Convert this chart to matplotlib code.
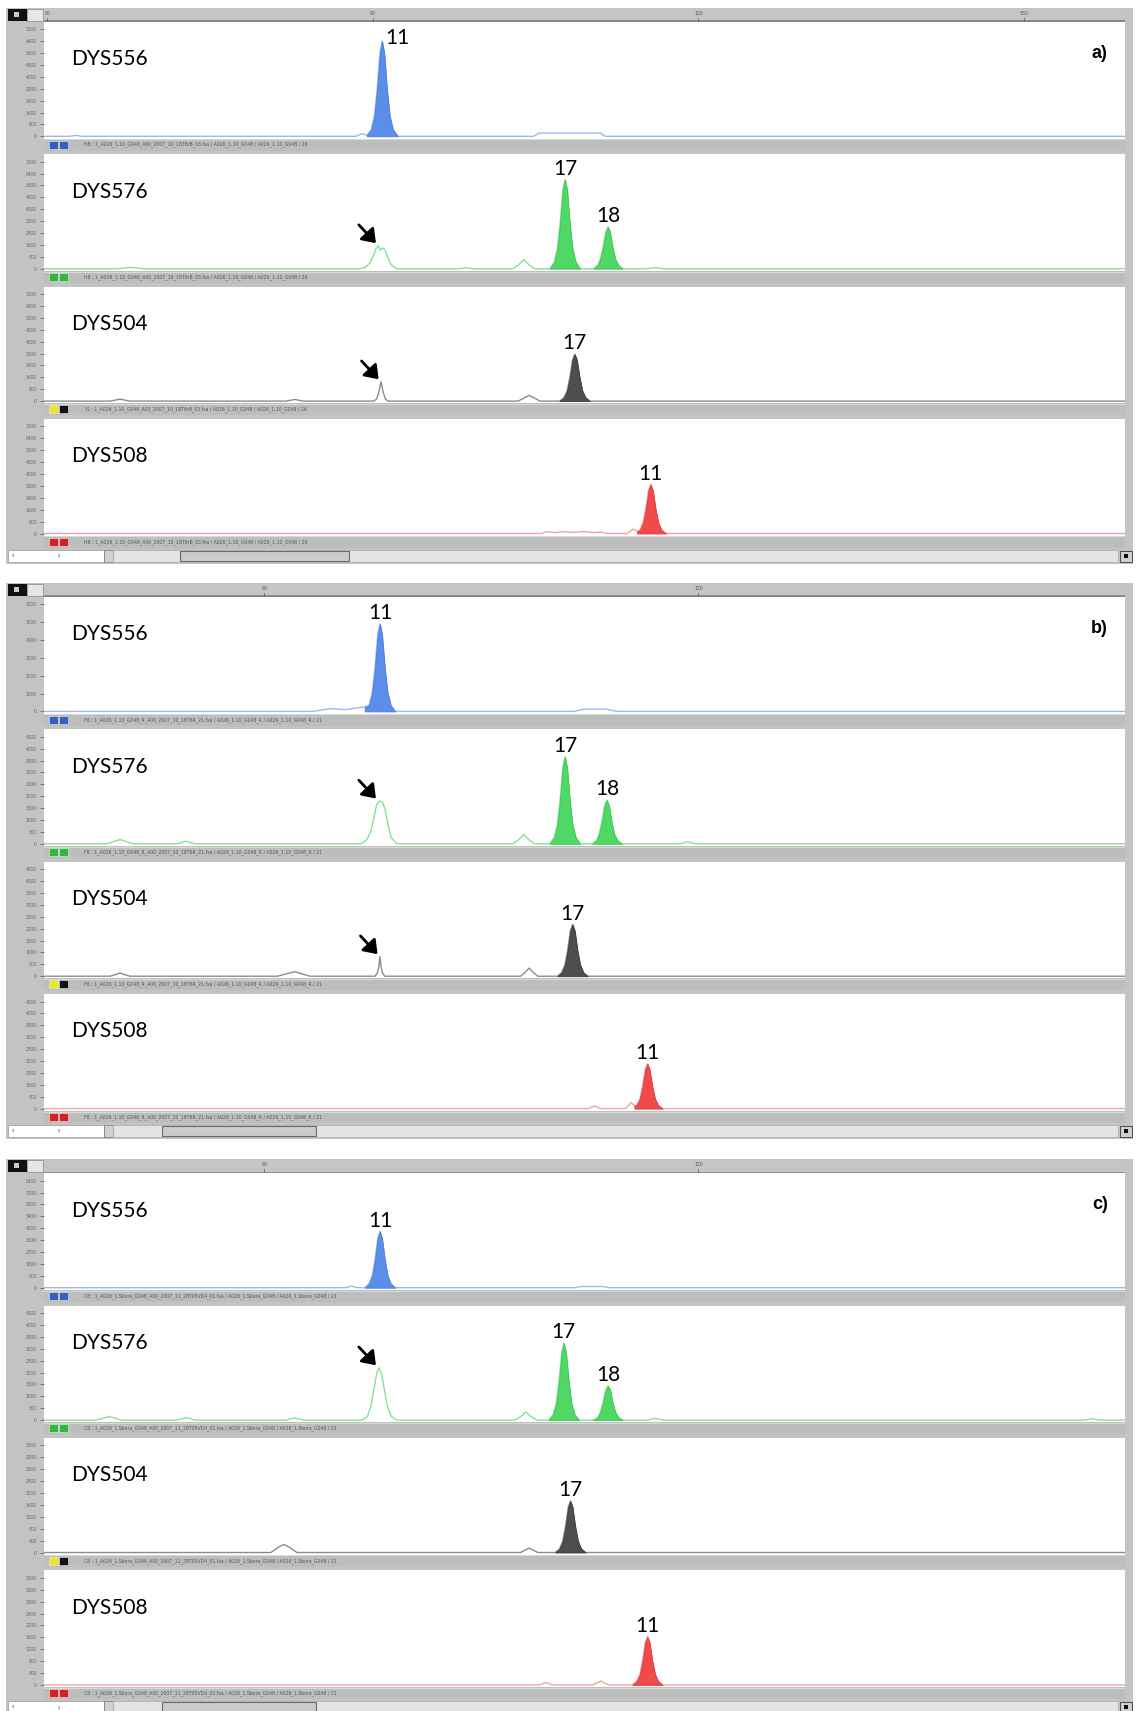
import numpy as np
import matplotlib.pyplot as plt
from matplotlib.patches import Rectangle

W, H = 1136, 1711
plt.rcParams['font.family'] = ['Lato', 'DejaVu Sans']

# size axis range (bp) shared by every trace
x_lo, x_hi = 59.7, 159.3

loci = ['DYS556', 'DYS576', 'DYS504', 'DYS508']
panel_tags = ['a)', 'b)', 'c)']
ruler_ticks = [[60, 90, 120, 150], [80, 120], [80, 120]]

# y tick steps (RFU), 10 labels each except b/DYS556 (7 labels)
a_ystep = [800, 800, 800, 800]
b_ystep = [1000, 500, 500, 500]
c_ystep = [900, 500, 400, 400]
b_ycount = [7, 10, 10, 10]

# ---- panel a traces (bp, RFU)
a_556_x = [59.7, 62.0, 62.6, 63.2, 88.4, 89.0, 89.45, 89.85, 90.15, 90.4, 90.65, 90.85, 91.05, 91.3, 91.55, 91.85, 92.3,
           104.8, 105.3, 105.6, 111.0, 111.4, 112.0, 159.3]
a_556_y = [0, 0, 60, 0, 0, 180, 60, 450, 1400, 3200, 5600, 6400, 5600, 3200, 1400, 450, 0,
           0, 220, 220, 220, 0, 0, 0]
a_576_x = [59.7, 66.5, 67.7, 68.9, 88.8, 89.3, 89.7, 90.0, 90.3, 90.5, 90.7, 90.9, 91.1, 91.35, 91.7, 92.2,
           98.0, 98.6, 99.2, 102.9, 103.4, 103.9, 104.4, 104.9,
           106.3, 106.7, 107.0, 107.25, 107.5, 107.7, 107.9, 108.15, 108.4, 108.7, 109.1,
           110.3, 110.7, 110.95, 111.2, 111.46, 111.66, 111.86, 112.1, 112.35, 112.65, 113.0,
           115.2, 116.0, 116.8, 159.3]
a_576_y = [0, 0, 90, 0, 0, 100, 350, 800, 1350, 1550, 1250, 1400, 1300, 800, 250, 0,
           0, 70, 0, 0, 250, 600, 250, 0,
           0, 420, 1320, 3000, 5280, 6000, 5280, 3000, 1320, 420, 0,
           0, 200, 620, 1400, 2460, 2800, 2460, 1400, 620, 200, 0,
           0, 70, 0, 0]
a_504_x = [59.7, 65.8, 66.7, 67.6, 82.0, 82.8, 83.6, 90.1, 90.35, 90.55, 90.75, 90.95, 91.15, 91.4,
           103.4, 103.9, 104.4, 104.9, 105.4,
           107.2, 107.6, 107.9, 108.15, 108.4, 108.6, 108.8, 109.05, 109.3, 109.6, 110.0, 159.3]
a_504_y = [0, 0, 130, 0, 0, 110, 0, 0, 150, 600, 1300, 600, 150, 0,
           0, 200, 380, 200, 0,
           0, 220, 690, 1580, 2770, 3150, 2770, 1580, 690, 220, 0, 0]
a_508_x = [59.7, 105.5, 106.0, 106.8, 107.6, 108.4, 109.5, 110.2, 111.0, 111.6,
           113.4, 114.0, 114.35, 114.6, 114.9, 115.15, 115.4, 115.6, 115.8, 116.05, 116.3, 116.6, 117.0, 159.3]
a_508_y = [0, 0, 120, 60, 130, 70, 140, 60, 100, 0,
           0, 300, 150, 230, 730, 1650, 2900, 3300, 2900, 1650, 730, 230, 0, 0]

# ---- panel b traces
b_556_x = [59.7, 84.5, 86.0, 87.5, 88.6, 89.25, 89.65, 89.95, 90.2, 90.45, 90.65, 90.85, 91.1, 91.35, 91.65, 92.05,
           108.5, 109.5, 111.5, 112.5, 159.3]
b_556_y = [0, 0, 150, 100, 200, 250, 340, 1080, 2450, 4310, 4900, 4310, 2450, 1080, 340, 0,
           0, 130, 130, 0, 0]
b_576_x = [59.7, 65.5, 66.7, 67.9, 72.0, 72.8, 73.6, 88.9, 89.4, 89.8, 90.1, 90.35, 90.6, 90.9, 91.15, 91.4, 91.7, 92.2,
           102.9, 103.4, 103.9, 104.4, 104.9,
           106.3, 106.7, 107.0, 107.25, 107.5, 107.7, 107.9, 108.15, 108.4, 108.7, 109.1,
           110.2, 110.6, 110.85, 111.1, 111.36, 111.56, 111.76, 112.0, 112.25, 112.55, 112.95,
           118.3, 119.0, 119.7, 159.3]
b_576_y = [0, 0, 180, 0, 0, 110, 0, 0, 150, 500, 1100, 1650, 1800, 1750, 1400, 800, 250, 0,
           0, 160, 390, 160, 0,
           0, 255, 800, 1825, 3210, 3650, 3210, 1825, 800, 255, 0,
           0, 130, 400, 915, 1610, 1830, 1610, 915, 400, 130, 0,
           0, 80, 0, 0]
b_504_x = [59.7, 65.8, 66.7, 67.6, 81.2, 82.8, 84.2, 90.2, 90.4, 90.55, 90.65, 90.75, 90.9, 91.1,
           103.6, 104.0, 104.4, 104.8, 105.2,
           107.0, 107.4, 107.7, 107.95, 108.2, 108.4, 108.6, 108.85, 109.1, 109.4, 109.8, 159.3]
b_504_y = [0, 0, 130, 0, 0, 190, 0, 0, 120, 400, 820, 400, 120, 0,
           0, 150, 340, 150, 0,
           0, 150, 480, 1085, 1910, 2170, 1910, 1085, 480, 150, 0, 0]
b_508_x = [59.7, 109.8, 110.4, 111.0, 113.3, 113.8, 114.1, 114.3, 114.6, 114.85, 115.1, 115.3, 115.5, 115.75, 116.0,
           116.3, 116.7, 159.3]
b_508_y = [0, 0, 110, 0, 0, 250, 130, 130, 410, 940, 1650, 1880, 1650, 940, 410, 130, 0, 0]

# ---- panel c traces
c_556_x = [59.7, 87.5, 88.0, 88.6, 89.25, 89.65, 89.95, 90.2, 90.45, 90.65, 90.85, 91.1, 91.35, 91.65, 92.05,
           108.5, 109.2, 111.2, 111.8, 159.3]
c_556_y = [0, 0, 120, 0, 0, 300, 935, 2125, 3740, 4250, 3740, 2125, 935, 300, 0,
           0, 90, 90, 0, 0]
c_576_x = [59.7, 64.5, 65.7, 66.9, 72.0, 72.8, 73.6, 82.0, 82.8, 83.6,
           89.0, 89.5, 89.8, 90.1, 90.35, 90.55, 90.8, 91.05, 91.35, 91.7, 92.2,
           103.1, 103.6, 104.1, 104.6, 105.1,
           106.2, 106.6, 106.9, 107.15, 107.4, 107.6, 107.8, 108.05, 108.3, 108.6, 109.0,
           110.3, 110.7, 110.95, 111.2, 111.46, 111.66, 111.86, 112.1, 112.35, 112.65, 113.0,
           115.3, 116.0, 116.7, 155.5, 156.2, 156.9, 159.3]
c_576_y = [0, 0, 150, 0, 0, 110, 0, 0, 90, 0,
           0, 150, 550, 1300, 1950, 2200, 1950, 1300, 550, 150, 0,
           0, 140, 340, 140, 0,
           0, 225, 710, 1615, 2840, 3230, 2840, 1615, 710, 225, 0,
           0, 100, 320, 720, 1270, 1440, 1270, 720, 320, 100, 0,
           0, 80, 0, 0, 60, 0, 0]
c_504_x = [59.7, 80.6, 81.3, 81.8, 82.3, 83.0, 103.6, 104.4, 105.2,
           106.8, 107.2, 107.5, 107.75, 108.0, 108.2, 108.4, 108.65, 108.9, 109.2, 109.6, 159.3]
c_504_y = [0, 0, 180, 270, 180, 0, 0, 150, 0,
           0, 120, 380, 865, 1520, 1730, 1520, 865, 380, 120, 0, 0]
c_508_x = [59.7, 105.3, 105.9, 106.5, 110.3, 111.0, 111.7,
           113.9, 114.3, 114.6, 114.85, 115.1, 115.3, 115.5, 115.75, 116.0, 116.3, 116.7, 159.3]
c_508_y = [0, 0, 80, 0, 0, 130, 0,
           0, 115, 355, 810, 1425, 1620, 1425, 810, 355, 115, 0, 0]

# called (filled) peak windows, allele labels, arrowed minor peaks
a_called = [[(89.45, 92.3)], [(106.3, 109.1), (110.3, 113.0)], [(107.2, 110.0)], [(114.35, 117.0)]]
b_called = [[(89.25, 92.05)], [(106.3, 109.1), (110.2, 112.95)], [(107.0, 109.8)], [(114.1, 116.7)]]
c_called = [[(89.25, 92.05)], [(106.2, 109.0), (110.3, 113.0)], [(106.8, 109.6)], [(113.9, 116.7)]]

a_labels = [[('11', 90.85, 6400)], [('17', 107.7, 6000), ('18', 111.66, 2800)], [('17', 108.6, 3150)], [('11', 115.6, 3300)]]
b_labels = [[('11', 90.65, 4900)], [('17', 107.7, 3650), ('18', 111.56, 1830)], [('17', 108.4, 2170)], [('11', 115.3, 1880)]]
c_labels = [[('11', 90.65, 4250)], [('17', 107.6, 3230), ('18', 111.66, 1440)], [('17', 108.2, 1730)], [('11', 115.3, 1620)]]

a_arrows = [[], [(90.5, 1550)], [(90.75, 1300)], []]
b_arrows = [[], [(90.5, 1800)], [(90.65, 820)], []]
c_arrows = [[], [(90.5, 2200)], [], []]

status_text = [
    ['H8 : 1_A026_1.10_G048_A00_2007_10_18T6rB_03.fsa / A026_1.10_G048 / A026_1.10_G048 / 26',
     'H8 : 1_A026_1.10_G048_A00_2007_10_18T6rB_03.fsa / A026_1.10_G048 / A026_1.10_G048 / 26',
     'Y1 : 1_A026_1.10_G048_A00_2007_10_18T6rB_03.fsa / A026_1.10_G048 / A026_1.10_G048 / 26',
     'H8 : 1_A026_1.10_G048_A00_2007_10_18T6rB_03.fsa / A026_1.10_G048 / A026_1.10_G048 / 26'],
    ['F8 : 1_A026_1.10_G048_R_A00_2007_10_18T6R_21.fsa / A026_1.10_G048_R / A026_1.10_G048_R / 21'] * 4,
    ['C8 : 1_A026_1.Sbora_G048_A00_2007_11_28T05VD4_01.fsa / A026_1.Sbora_G048 / A026_1.Sbora_G048 / 21'] * 4,
]

traces = [
    [(a_556_x, a_556_y), (a_576_x, a_576_y), (a_504_x, a_504_y), (a_508_x, a_508_y)],
    [(b_556_x, b_556_y), (b_576_x, b_576_y), (b_504_x, b_504_y), (b_508_x, b_508_y)],
    [(c_556_x, c_556_y), (c_576_x, c_576_y), (c_504_x, c_504_y), (c_508_x, c_508_y)],
]
called = [a_called, b_called, c_called]
labels = [a_labels, b_labels, c_labels]
arrows = [a_arrows, b_arrows, c_arrows]
ysteps = [a_ystep, b_ystep, c_ystep]
ycounts = [[10] * 4, b_ycount, [10] * 4]

line_col = ['#9db8ee', '#86e294', '#8c8c8c', '#f2a3a3']
fill_col = ['#5b8ee8', '#4fd866', '#4e4e4e', '#f04a4a']
edge_col = ['#4a7cdc', '#3cc655', '#3a3a3a', '#e03a3a']
chip_col = [('#3560c0', '#3560c0'), ('#2fb83c', '#2fb83c'), ('#e8e820', '#111111'), ('#d42020', '#d42020')]
thumb_x = [(180, 349), (162, 316), (162, 316)]
panel_tops = [7.6, 582.7, 1159.0]


def px_box(x0, y0, x1, y1):
    return [x0 / W, 1 - y1 / H, (x1 - x0) / W, (y1 - y0) / H]


def px_rect(fig, x0, y0, x1, y1, **kw):
    fig.add_artist(Rectangle((x0 / W, 1 - y1 / H), (x1 - x0) / W, (y1 - y0) / H,
                             transform=fig.transFigure, **kw))


def bare(ax):
    ax.set_xticks([])
    ax.set_yticks([])
    for s in ax.spines.values():
        s.set_visible(False)


fig = plt.figure(figsize=(W / 100, H / 100), dpi=100)

for p in range(3):
    top = panel_tops[p]
    bg = fig.add_axes(px_box(6, top, 1133, top + 556))
    bg.set_facecolor('#c3c3c3')
    bare(bg)

    # ruler bar
    rul = fig.add_axes(px_box(44, top, 1125, top + 14.2))
    rul.set_facecolor('#c5c5c5')
    bare(rul)
    rul.set_xlim(x_lo, x_hi)
    rul.set_ylim(0, 1)
    rul.axhline(0.04, color='#858585', lw=2)
    for t in ruler_ticks[p]:
        rul.text(t, 0.6, str(t), fontsize=3.6, ha='center', va='center', color='#555555')
        rul.plot([t, t], [0.05, 0.3], color='#666666', lw=0.6)
    px_rect(fig, 8, top + 1, 27, top + 13, facecolor='#111111', edgecolor='none')
    px_rect(fig, 14, top + 4, 19, top + 9, facecolor='#cccccc', edgecolor='none')
    px_rect(fig, 27, top + 1, 43, top + 13, facecolor='#e6e6e6', edgecolor='#888888', lw=0.5)

    for k in range(4):
        y0 = top + 14.2 + 132.4 * k
        ax = fig.add_axes(px_box(44, y0, 1125, y0 + 116.8))
        ax.set_facecolor('white')
        for s in ax.spines.values():
            s.set_visible(False)
        x = np.array(traces[p][k][0])
        y = np.array(traces[p][k][1])
        step = ysteps[p][k]
        n = ycounts[p][k]
        ymax = step * (n - 1) * 1.07
        ax.set_xlim(x_lo, x_hi)
        ax.set_ylim(-0.02 * ymax, ymax)
        ax.plot(x, y, color=line_col[k], lw=1.0, zorder=2)
        for s0, s1 in called[p][k]:
            ax.fill_between(x, y, 0, where=(x >= s0) & (x <= s1), facecolor=fill_col[k],
                            edgecolor=edge_col[k], lw=0.6, zorder=3)
        ax.set_xticks([])
        ax.set_yticks(np.arange(n) * step)
        ax.set_yticklabels([str(v) for v in np.arange(n) * step])
        ax.tick_params(axis='y', length=3, width=0.6, colors='#666666', labelsize=3.4, pad=2)
        ax.text(0.025, 0.68, loci[k], transform=ax.transAxes, fontsize=15, ha='left', va='center')
        if k == 0:
            ax.text(0.984, 0.73, panel_tags[p], transform=ax.transAxes, fontsize=13, fontweight='bold',
                    ha='right', va='center', family='Liberation Sans')
        for lab, bp, h in labels[p][k]:
            if h / ymax > 0.8:
                # too close to the top: the label sits beside the peak
                ax.annotate(lab, (bp, h), xytext=(11, 2.5), textcoords='offset points',
                            ha='center', va='center', fontsize=15, annotation_clip=False)
            else:
                ax.annotate(lab, (bp, h), xytext=(0, 3.5), textcoords='offset points',
                            ha='center', va='baseline', fontsize=15)
        for bp, h in arrows[p][k]:
            ax.annotate('', xy=(bp, h), xytext=(-14, 15), textcoords='offset points',
                        arrowprops=dict(arrowstyle='-|>,head_length=0.55,head_width=0.4', color='black',
                                        lw=2.0, mutation_scale=14, shrinkA=0, shrinkB=2.5))

        # status bar under each trace
        st = fig.add_axes(px_box(44, y0 + 116.8, 1125, y0 + 128.8))
        st.set_facecolor('#bdbdbd')
        bare(st)
        st.set_xlim(0, 1081)
        st.set_ylim(0, 12)
        st.axhline(11.4, color='#d8d8d8', lw=0.8)
        c1, c2 = chip_col[k]
        st.add_patch(Rectangle((5, 2), 9, 8, facecolor=c1, edgecolor='#eeeeee', lw=0.4))
        st.add_patch(Rectangle((15, 2), 9, 8, facecolor=c2, edgecolor='#eeeeee', lw=0.4))
        st.text(40, 6, status_text[p][k], fontsize=3.3, color='#555555', va='center', ha='left',
                family='DejaVu Sans')

    # scroll bar
    sy = top + 542
    px_rect(fig, 8, sy, 104, sy + 12, facecolor='white', edgecolor='#999999', lw=0.5)
    fig.text(12 / W, 1 - (sy + 6) / H, 'x', fontsize=3.5, color='#555555', va='center')
    fig.text(58 / W, 1 - (sy + 6) / H, 'y', fontsize=3.5, color='#555555', va='center')
    px_rect(fig, 104, sy, 113, sy + 12, facecolor='#d0d0d0', edgecolor='#777777', lw=0.5)
    px_rect(fig, 113, sy, 1118, sy + 12, facecolor='#e4e4e4', edgecolor='#aaaaaa', lw=0.5)
    tx0, tx1 = thumb_x[p]
    px_rect(fig, tx0, sy + 1, tx1, sy + 11, facecolor='#cbcbcb', edgecolor='#6a6a6a', lw=0.8)
    px_rect(fig, 1120, sy + 1, 1132, sy + 12, facecolor='#d0d0d0', edgecolor='#333333', lw=0.6)
    px_rect(fig, 1124, sy + 4, 1128, sy + 8, facecolor='#111111', edgecolor='none')

fig.savefig('out.png', dpi=100, facecolor='white')
